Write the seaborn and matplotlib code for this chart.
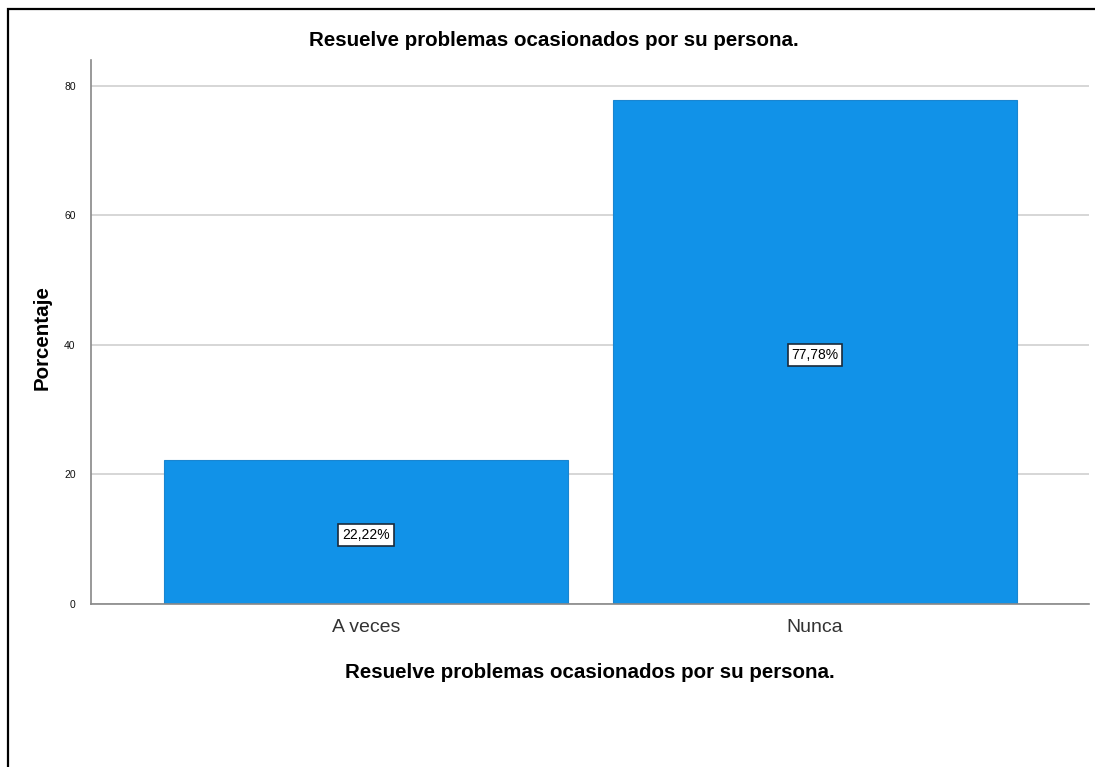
import pandas as pd
import matplotlib
matplotlib.use("Agg")
import matplotlib.pyplot as plt
import seaborn as sns
from matplotlib import font_manager
from matplotlib.patches import Rectangle

# data
categorias = ["A veces", "Nunca"]
porcentajes = [22.22, 77.78]
etiquetas = ["22,22%", "77,78%"]
titulo = "Resuelve problemas ocasionados por su persona."

df = pd.DataFrame({"cat": categorias, "pct": porcentajes})

sns.set_style("white")
plt.rcParams["font.family"] = ["Liberation Sans", "DejaVu Sans"]

# tick labels in the original use a narrow face
nombres = {f.name for f in font_manager.fontManager.ttflist}
if "Liberation Sans Narrow" in nombres:
    fuente_tick, tam_x, tam_y = "Liberation Sans Narrow", 16.8, 9
else:
    fuente_tick, tam_x, tam_y = "Liberation Sans", 14, 7.5

fig = plt.figure(figsize=(10.95, 7.67), dpi=100)
ax = fig.add_axes([0.0831, 0.2125, 0.9114, 0.7093])

ax.set_axisbelow(True)
ax.yaxis.grid(True, color="#d0d0d0", linewidth=1.2)

sns.barplot(data=df, x="cat", y="pct", color="#1192e8", saturation=1,
            width=0.9, edgecolor="#1a85d0", linewidth=0.8, ax=ax)

# boxed percentage labels in the middle of each bar
for i, (v, t) in enumerate(zip(porcentajes, etiquetas)):
    ax.text(i, v / 2 - 0.4, t, ha="center", va="center", fontsize=10, color="black",
            bbox=dict(boxstyle="square,pad=0.28", facecolor="white",
                      edgecolor="#1a2a3a", linewidth=1.2))

ax.set_xlim(-0.612, 1.61)
ax.set_ylim(0, 84)
ax.set_yticks([0, 20, 40, 60, 80])

for s in ["top", "right"]:
    ax.spines[s].set_visible(False)
for s in ["left", "bottom"]:
    ax.spines[s].set_color("#888888")
    ax.spines[s].set_linewidth(1.2)

ax.tick_params(axis="y", length=0, labelsize=tam_y, pad=11, colors="#111111")
ax.tick_params(axis="x", length=0, labelsize=tam_x, pad=11, colors="#333333")
for lab in ax.get_xticklabels() + ax.get_yticklabels():
    lab.set_family([fuente_tick, "DejaVu Sans"])

# title centred on the figure, like the exported chart
fig.text(554 / 1095, 1 - 40 / 767, titulo, ha="center", va="center",
         fontsize=14.8, fontweight="bold", color="black")

ax.set_xlabel(titulo, fontsize=14.8, fontweight="bold", color="black")
ax.xaxis.set_label_coords(0.5, -0.125)
ax.xaxis.label.set_va("center")
ax.set_ylabel("Porcentaje", fontsize=14.8, fontweight="bold", color="black")
ax.yaxis.set_label_coords(-0.0491, 0.489)
ax.yaxis.label.set_va("center")

# outer frame like the exported chart
fig.patches.append(Rectangle((8 / 1095, -0.1), 1.2, 1.1 - 9 / 767,
                             transform=fig.transFigure, fill=False,
                             edgecolor="black", linewidth=1.6))

plt.savefig("out.png", dpi=100)
